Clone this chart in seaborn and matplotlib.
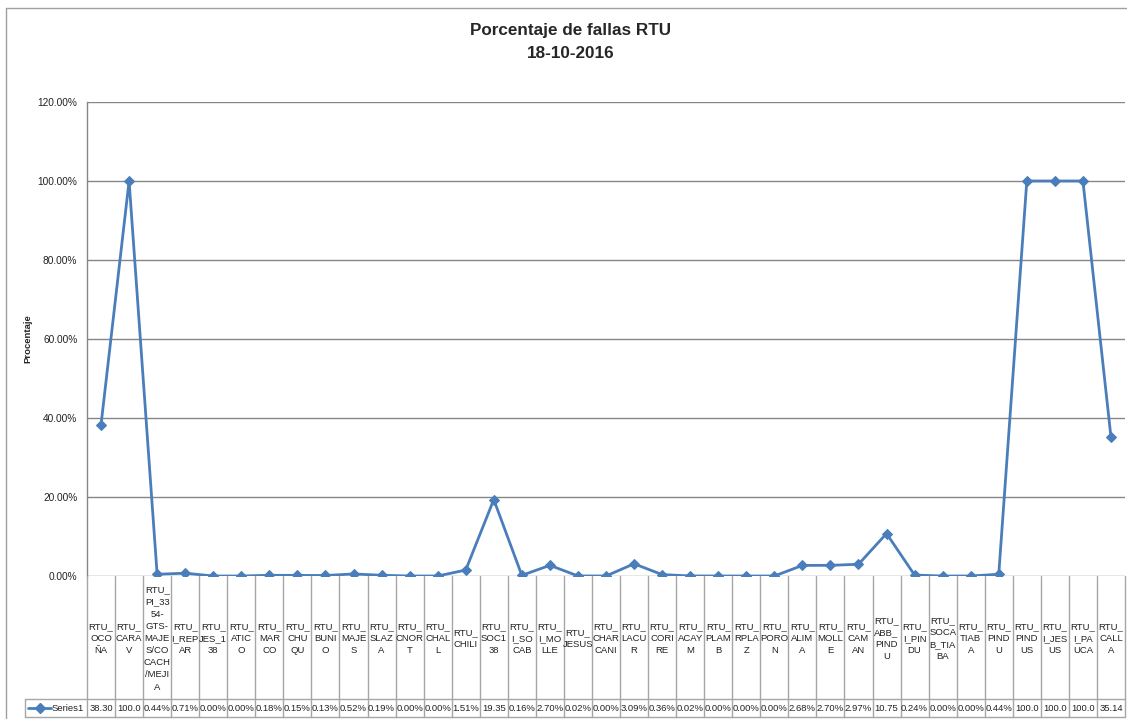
import numpy as np
import pandas as pd
import matplotlib
matplotlib.use("Agg")
import matplotlib.pyplot as plt
from matplotlib.lines import Line2D
from matplotlib.ticker import FuncFormatter
import seaborn as sns

rtu_labels = [
    "RTU_\nOCO\nÑA", "RTU_\nCARA\nV", "RTU_\nPI_33\n54-\nGTS-\nMAJE\nS/CO\nCACH\n/MEJI\nA",
    "RTU_\nI_REP\nAR", "RTU_\nJES_1\n38", "RTU_\nATIC\nO", "RTU_\nMAR\nCO", "RTU_\nCHU\nQU",
    "RTU_\nBUNI\nO", "RTU_\nMAJE\nS", "RTU_\nSLAZ\nA", "RTU_\nCNOR\nT", "RTU_\nCHAL\nL",
    "RTU_\nCHILI", "RTU_\nSOC1\n38", "RTU_\nI_SO\nCAB", "RTU_\nI_MO\nLLE", "RTU_\nJESUS",
    "RTU_\nCHAR\nCANI", "RTU_\nLACU\nR", "RTU_\nCORI\nRE", "RTU_\nACAY\nM", "RTU_\nPLAM\nB",
    "RTU_\nRPLA\nZ", "RTU_\nPORO\nN", "RTU_\nALIM\nA", "RTU_\nMOLL\nE", "RTU_\nCAM\nAN",
    "RTU_\nABB_\nPIND\nU", "RTU_\nI_PIN\nDU", "RTU_\nSOCA\nB_TIA\nBA", "RTU_\nTIAB\nA",
    "RTU_\nPIND\nU", "RTU_\nPIND\nUS", "RTU_\nI_JES\nUS", "RTU_\nI_PA\nUCA", "RTU_\nCALL\nA",
]
fallas_pct = [
    38.30, 100.0, 0.44, 0.71, 0.00, 0.00, 0.18, 0.15, 0.13, 0.52, 0.19, 0.00, 0.00,
    1.51, 19.35, 0.16, 2.70, 0.02, 0.00, 3.09, 0.36, 0.02, 0.00, 0.00, 0.00,
    2.68, 2.70, 2.97, 10.75, 0.24, 0.00, 0.00, 0.44, 100.0, 100.0, 100.0, 35.14,
]
y_ticks = [0, 0.2, 0.4, 0.6, 0.8, 1.0, 1.2]

df = pd.DataFrame({"pos": np.arange(len(fallas_pct)), "valor": np.array(fallas_pct) / 100})

sns.set_theme(style="white")
plt.rcParams["font.family"] = ["Liberation Sans", "DejaVu Sans"]

W, H = 1127, 719
fig = plt.figure(figsize=(W / 100, H / 100), dpi=100)
fig.patch.set_facecolor("white")

blue = "#4a7ebb"
grid_c = "#868686"
tab_c = "#a6a6a6"
txt_c = "#222222"
fs = 6.8

left, right, top, bottom = 87, 1125, 102, 576
ax = fig.add_axes([left / W, 1 - bottom / H, (right - left) / W, (bottom - top) / H])
sns.lineplot(data=df, x="pos", y="valor", ax=ax, color=blue, linewidth=2.0,
             marker="D", markersize=5.5, markeredgecolor=blue, zorder=3)
ax.set_xlim(-0.5, len(fallas_pct) - 0.5)
ax.set_ylim(0, 1.2)
ax.set_yticks(y_ticks)
ax.yaxis.set_major_formatter(FuncFormatter(lambda v, p: f"{v * 100:.2f}%"))
ax.tick_params(axis="y", labelsize=7.3, length=0, pad=7, colors=txt_c)
ax.set_xticks([])
ax.set_xlabel("")
ax.set_ylabel("")
ax.grid(axis="y", color=grid_c, linewidth=1.0)
for s in ["top", "right", "bottom"]:
    ax.spines[s].set_visible(False)
ax.spines["left"].set_color(grid_c)
ax.spines["left"].set_linewidth(1.0)

# data table under the plot
t_top, t_mid, t_bot = 576, 699, 717
tab = fig.add_axes([left / W, 1 - t_bot / H, (right - left) / W, (t_bot - t_top) / H])
tab.set_xlim(-0.5, len(fallas_pct) - 0.5)
tab.set_ylim(t_bot, t_top)
tab.axis("off")
n = len(fallas_pct)
for i in range(n + 1):
    tab.plot([i - 0.5, i - 0.5], [t_top, t_bot], color=tab_c, lw=1.0, clip_on=False)
colw = (right - left) / n
x_leg = -0.5 - (left - 25) / colw
tab.plot([x_leg, n - 0.5], [t_mid, t_mid], color=tab_c, lw=1.0, clip_on=False)
tab.plot([x_leg, n - 0.5], [t_bot, t_bot], color=tab_c, lw=1.0, clip_on=False)
tab.plot([x_leg, x_leg], [t_mid, t_bot], color=tab_c, lw=1.0, clip_on=False)
for i, (lab, v) in enumerate(zip(rtu_labels, fallas_pct)):
    tab.text(i, (t_top + t_mid) / 2 + 1, lab, ha="center", va="center", fontsize=fs,
             linespacing=1.45, color=txt_c)
    tab.text(i, (t_mid + t_bot) / 2, f"{v:.2f}%"[:5], ha="center", va="center",
             fontsize=fs, color=txt_c)
# legend key in the table
x0 = x_leg + 3 / colw
x1 = x0 + 23 / colw
tab.plot([x0, x1], [(t_mid + t_bot) / 2] * 2, color=blue, lw=2.0, clip_on=False)
tab.plot([(x0 + x1) / 2], [(t_mid + t_bot) / 2], marker="D", color=blue, ms=5, clip_on=False)
tab.text(x1 + 1 / colw, (t_mid + t_bot) / 2, "Series1", ha="left", va="center",
         fontsize=fs, color=txt_c)

# titles
fig.text(571 / W, 1 - 30 / H, "Porcentaje de fallas RTU", ha="center", va="center",
         fontsize=12.3, fontweight="bold")
fig.text(571 / W, 1 - 54 / H, "18-10-2016", ha="center", va="center",
         fontsize=12.3, fontweight="bold")
fig.text(28 / W, 1 - 339 / H, "Procentaje", rotation=90, ha="center", va="center",
         fontsize=6.8, fontweight="bold")

# chart area border
fig.add_artist(Line2D([6 / W, 6 / W], [0, 1 - 8 / H], color="#a0a0a0", lw=1.0))
fig.add_artist(Line2D([6 / W, 1], [1 - 8 / H, 1 - 8 / H], color="#a0a0a0", lw=1.0))

fig.savefig("out.png", dpi=100)
